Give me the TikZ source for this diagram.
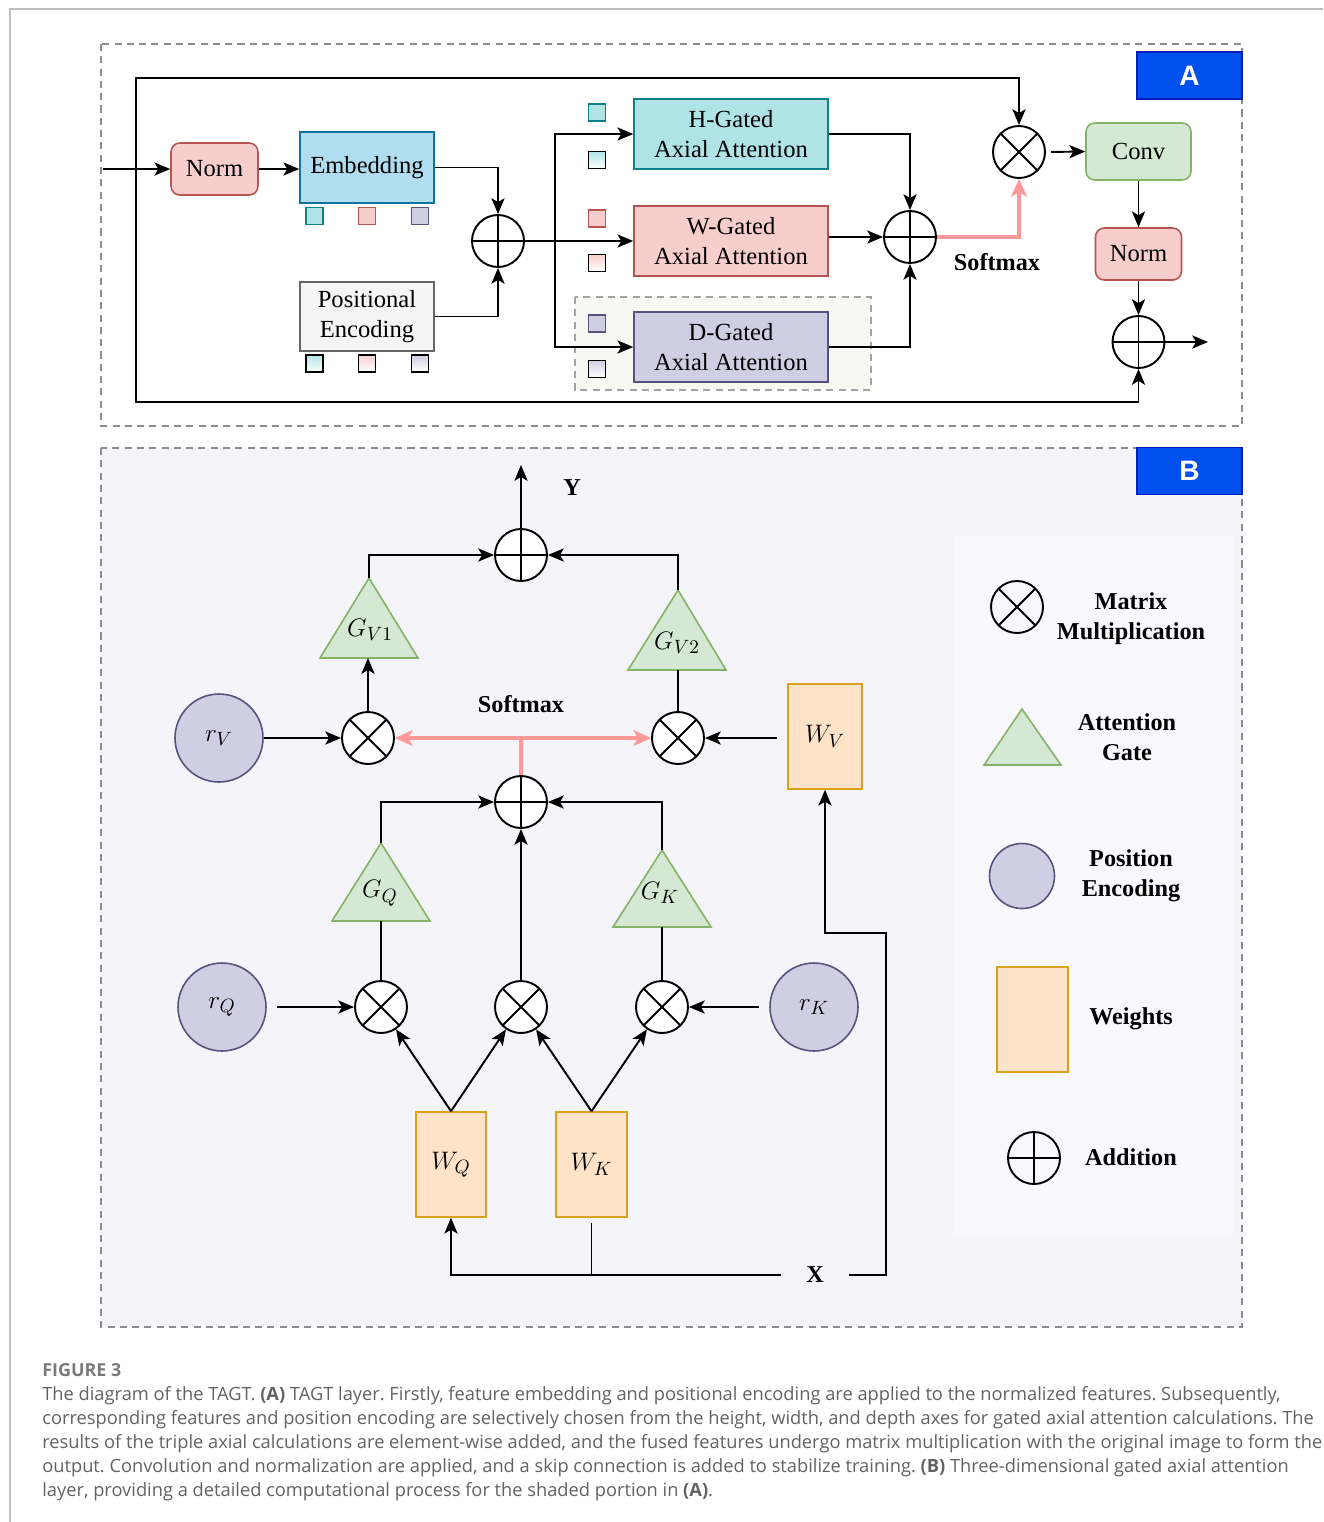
\documentclass[tikz,border=0pt]{standalone}
\usepackage{fontspec}
\setmainfont{Liberation Serif}
\newfontfamily\capfont{Open Sans}
\newfontfamily\tagfont{Liberation Sans}
\usetikzlibrary{arrows.meta,calc}
\frenchspacing

\definecolor{redF}{HTML}{F8CECC}\definecolor{redD}{HTML}{B85450}
\definecolor{blueF}{HTML}{B1DDF0}\definecolor{blueD}{HTML}{10739E}
\definecolor{tealF}{HTML}{B0E3E6}\definecolor{tealD}{HTML}{0E8088}
\definecolor{purpF}{HTML}{D0CEE2}\definecolor{purpD}{HTML}{56517E}
\definecolor{greenF}{HTML}{D5E8D4}\definecolor{greenD}{HTML}{82B366}
\definecolor{greyF}{HTML}{F5F5F5}\definecolor{greyD}{HTML}{666666}
\definecolor{peachF}{HTML}{FFE3C8}\definecolor{peachD}{HTML}{D9A21E}
\definecolor{pinkL}{HTML}{FF9999}
\definecolor{tagF}{HTML}{0050EF}\definecolor{tagD}{HTML}{001DBC}
\definecolor{panelB}{HTML}{F4F4F9}\definecolor{legendF}{HTML}{F9F9FD}
\definecolor{shadeD}{HTML}{F7F8F2}
\definecolor{dashG}{HTML}{8C8C8C}
\definecolor{capG}{HTML}{626262}
\definecolor{frameG}{HTML}{BDBDBD}

\tikzset{
  con/.style={line width=1.1pt},
  arr/.style={line width=1.1pt,-{Stealth[length=9pt,width=7.5pt,inset=2.2pt]}},
  pinkline/.style={draw=pinkL,line width=1.9pt},
  pinkarr/.style={pinkline,-{Stealth[length=10pt,width=9pt,inset=2.5pt]}},
  txt/.style={font=\fontsize{14}{17}\selectfont,align=center},
  boldtxt/.style={font=\fontsize{13.8}{17}\selectfont\bfseries,align=center},
  mathtxt/.style={font=\fontsize{15}{18}\selectfont},
  box/.style={draw,line width=0.9pt,inner sep=0pt,txt},
  rbox/.style={box,rounded corners=5pt},
  panel/.style={draw=dashG,line width=0.8pt,dash pattern=on 4pt off 3pt},
  tagbox/.style={fill=tagF,draw=tagD,line width=0.8pt,minimum width=2.1cm,minimum height=0.94cm,
    text=white,font=\tagfont\fontsize{16}{18}\selectfont\bfseries},
  sq/.style={draw,line width=0.8pt,minimum size=0.34cm,inner sep=0pt},
  gsq/.style={sq,draw=black,top color=#1,bottom color=white},
  addc/.style={circle,draw,line width=1.1pt,minimum size=1.04cm,inner sep=0pt,
    path picture={\draw[line width=1.1pt]
      (path picture bounding box.north) -- (path picture bounding box.south)
      (path picture bounding box.west) -- (path picture bounding box.east);}},
  mulc/.style={circle,draw,line width=1.1pt,minimum size=1.04cm,inner sep=0pt,
    path picture={\draw[line width=1.1pt]
      (path picture bounding box.north west) -- (path picture bounding box.south east)
      (path picture bounding box.south west) -- (path picture bounding box.north east);}},
  posc/.style={circle,fill=purpF,draw=purpD,line width=0.9pt,minimum size=1.76cm,inner sep=0pt,mathtxt},
  wbox/.style={fill=peachF,draw=peachD,line width=0.9pt,inner sep=0pt,mathtxt},
  gate/.style={fill=greenF,draw=greenD,line width=0.9pt},
  captxt/.style={anchor=base west,inner sep=0pt,text=capG,font=\capfont\fontsize{10.4}{12}\selectfont},
}

\begin{document}
\begin{tikzpicture}[x=0.02cm,y=-0.02cm]
\useasboundingbox (0,0) rectangle (1323,1522);

% page frame
\draw[frameG,line width=0.8pt] (10,1522) -- (10,9) -- (1323,9);

% ---------------- panel A ----------------
\draw[panel] (101,44) rectangle (1242,426);
\node[tagbox] (tagA) at (1189.5,75.5) {A};
\fill[shadeD] (575,297) rectangle (871,390);
\draw[panel,draw=dashG!80] (575,297) rectangle (871,390);

\node[rbox,fill=redF,draw=redD,minimum width=1.74cm,minimum height=1.04cm] (normA) at (214.5,169) {Norm};
\node[box,fill=blueF,draw=blueD,minimum width=2.68cm,minimum height=1.42cm] (emb) at (367,167.5) {Embedding};
\node[box,fill=greyF,draw=greyD,minimum width=2.68cm,minimum height=1.38cm] (pos) at (367,316.5) {Positional\\Encoding};

\node[sq,fill=tealF,draw=tealD] (e1) at (314.5,216) {};
\node[sq,fill=redF,draw=redD] (e2) at (367,216) {};
\node[sq,fill=purpF,draw=purpD] (e3) at (420,216) {};
\node[gsq=tealF] (p1) at (314.5,363.5) {};
\node[gsq=redF] (p2) at (367,363.5) {};
\node[gsq=purpF] (p3) at (420,363.5) {};

\node[addc] (add1) at (498,241) {};

\node[box,fill=tealF,draw=tealD,minimum width=3.88cm,minimum height=1.4cm] (hbox) at (731,134) {H-Gated\\Axial Attention};
\node[box,fill=redF,draw=redD,minimum width=3.88cm,minimum height=1.4cm] (wbx) at (731,241) {W-Gated\\Axial Attention};
\node[box,fill=purpF,draw=purpD,minimum width=3.88cm,minimum height=1.4cm] (dbox) at (731,347) {D-Gated\\Axial Attention};

\node[sq,fill=tealF,draw=tealD] (h1) at (597,112.5) {};
\node[gsq=tealF] (h2) at (597,160) {};
\node[sq,fill=redF,draw=redD] (w1) at (597,218.5) {};
\node[gsq=redF] (w2) at (597,263) {};
\node[sq,fill=purpF,draw=purpD] (d1) at (597,323.5) {};
\node[gsq=purpF] (d2) at (597,369) {};

\node[addc] (add2) at (910,237) {};
\node[mulc] (mul1) at (1019,152) {};
\node[rbox,fill=greenF,draw=greenD,minimum width=2.1cm,minimum height=1.14cm] (conv) at (1138.5,151.5) {Conv};
\node[rbox,fill=redF,draw=redD,minimum width=1.72cm,minimum height=1.04cm] (normB) at (1138.5,254) {Norm};
\node[addc] (add3) at (1138.5,342) {};
\node[boldtxt] (smA) at (997,262) {Softmax};

\coordinate (inA) at (103,169);
\coordinate (j1) at (136,169);
\coordinate (loopT) at (136,78);
\coordinate (loopB) at (136,402);
\coordinate (split) at (555,241);
\coordinate (outA) at (1208,342);

\draw[arr] (inA) -- (normA.west);
\draw[arr] (normA.east) -- (normA.east -| emb.west);
\draw[arr] (emb.east) -| (add1.north);
\draw[arr] (pos.east) -| (add1.south);
\draw[arr] (add1.east) -- (wbx.west);
\draw[arr] (split) |- (hbox.west);
\draw[arr] (split) |- (dbox.west);
\draw[arr] (hbox.east) -| (add2.north);
\draw[arr] (wbx.east |- add2.west) -- (add2.west);
\draw[arr] (dbox.east) -| (add2.south);
\draw[pinkarr] (add2.east) -| (mul1.south);
\draw[arr] (j1) -- (loopT) -| (mul1.north);
\draw[arr] (j1) -- (loopB) -| (add3.south);
\draw[arr,shorten <=3pt] (mul1.east) -- (conv.west);
\draw[arr] (conv.south) -- (normB.north);
\draw[arr] (normB.south) -- (add3.north);
\draw[arr] (add3.east) -- (outA);

% ---------------- panel B ----------------
\fill[panelB] (101,448) rectangle (1242,1327);
\draw[panel] (101,448) rectangle (1242,1327);
\fill[legendF] (953,536) rectangle (1233,1237);
\node[tagbox] (tagB) at (1189.5,471) {B};

\node[addc,fill=white] (addT) at (521,555) {};
\node[addc,fill=white] (addM) at (521,802) {};
\coordinate (yout) at (521,465);
\node[boldtxt] (ylab) at (572,488) {Y};

% attention gates
\draw[gate] (369,578) -- (320,658) -- (418,658) -- cycle;
\coordinate (gv1top) at (369,578); \coordinate (gv1bot) at (368,658);
\node[mathtxt] (gv1) at (370,630) {$G_{V1}$};
\draw[gate] (678,590) -- (628,670) -- (726,670) -- cycle;
\coordinate (gv2top) at (678,590); \coordinate (gv2bot) at (678,670);
\node[mathtxt] (gv2) at (677,643) {$G_{V2}$};
\draw[gate] (381,843) -- (332,921) -- (430,921) -- cycle;
\coordinate (gqtop) at (381,843); \coordinate (gqbot) at (381,921);
\node[mathtxt] (gq) at (380,893) {$G_Q$};
\draw[gate] (662,850) -- (613,927) -- (711,927) -- cycle;
\coordinate (gktop) at (662,850); \coordinate (gkbot) at (662,927);
\node[mathtxt] (gk) at (660,893) {$G_K$};

\node[mulc,fill=white] (mv1) at (368,738) {};
\node[mulc,fill=white] (mv2) at (678,738) {};
\node[posc] (rv) at (219,738) {$r_V$};
\node[wbox,minimum width=1.48cm,minimum height=2.1cm] (wv) at (825,736.5) {$W_V$};
\node[boldtxt] (smB) at (521,704) {Softmax};

\node[mulc,fill=white] (mq) at (381,1007) {};
\node[mulc,fill=white] (mm) at (521,1007) {};
\node[mulc,fill=white] (mk) at (662,1007) {};
\node[posc] (rq) at (222,1007) {$r_Q$};
\node[posc] (rk) at (814,1007) {$r_K$};
\node[wbox,minimum width=1.4cm,minimum height=2.1cm] (wq) at (451,1164.5) {$W_Q$};
\node[wbox,minimum width=1.42cm,minimum height=2.1cm] (wk) at (591.5,1164.5) {$W_K$};
\node[boldtxt,inner xsep=0.5cm] (xlab) at (815,1275) {X};

\draw[arr] (addT.north) -- (yout);
\draw[arr] (gv1top) |- (addT.west);
\draw[arr] (gv2top) |- (addT.east);
\draw[arr] (mv1.north) -- (mv1.north |- gv1bot);
\draw[con] (mv2.north) -- (gv2bot);
\draw[arr] (rv.east) -- (mv1.west);
\draw[arr,shorten <=6pt] (mv2.east -| wv.west) -- (mv2.east);
\draw[pinkline] (addM.north) -- (addM.north |- mv1);
\draw[pinkarr,{Stealth[length=10pt,width=9pt,inset=2.5pt]}-{Stealth[length=10pt,width=9pt,inset=2.5pt]}] (mv1.east) -- (mv2.west);

\draw[arr] (gqtop) |- (addM.west);
\draw[arr] (gktop) |- (addM.east);
\draw[con] (gqbot) -- (mq.north);
\draw[con] (gkbot) -- (mk.north);
\draw[arr] (mm.north) -- (addM.south);
\draw[arr,shorten <=6pt] (rq.east) -- (mq.west);
\draw[arr,shorten <=6pt] (rk.west) -- (mk.east);
\draw[arr] (wq.north) -- (mq);
\draw[arr] (wq.north) -- (mm);
\draw[arr] (wk.north) -- (mm);
\draw[arr] (wk.north) -- (mk);
\draw[arr] (xlab.west) -| (wq.south);
\draw[con,shorten <=3pt] (wk.south) -- (wk.south |- xlab);
\draw[arr] (xlab.east) -| (886,933) -| (wv.south);

% legend
\node[mulc] (lmul) at (1017,607) {};
\node[boldtxt] (lmult) at (1131,619) {Matrix\\Multiplication};
\draw[gate] (1022,709) -- (984,765) -- (1061,765) -- cycle;
\node[boldtxt] (lgatet) at (1127,737) {Attention\\Gate};
\node[posc,minimum size=1.3cm] (lpos) at (1022,876) {};
\node[boldtxt] (lpost) at (1131,876) {Position\\Encoding};
\node[wbox,minimum width=1.42cm,minimum height=2.1cm] (lw) at (1032.5,1019.5) {};
\node[boldtxt] (lwt) at (1131,1019) {Weights};
\node[addc] (ladd) at (1034,1158) {};
\node[boldtxt] (laddt) at (1131,1157) {Addition};

% ---------------- caption ----------------
\node[captxt,font=\capfont\fontsize{10.2}{12}\selectfont\bfseries,text=capG!85] (fig) at (42,1376) {FIGURE 3};
\node[captxt] (c1) at (42,1400) {The diagram of the TAGT. \textbf{(A)} TAGT layer. Firstly, feature embedding and positional encoding are applied to the normalized features. Subsequently,};
\node[captxt] (c2) at (42,1424) {corresponding features and position encoding are selectively chosen from the height, width, and depth axes for gated axial attention calculations. The};
\node[captxt] (c3) at (42,1448) {results of the triple axial calculations are element-wise added, and the fused features undergo matrix multiplication with the original image to form the};
\node[captxt] (c4) at (42,1472) {output. Convolution and normalization are applied, and a skip connection is added to stabilize training. \textbf{(B)} Three-dimensional gated axial attention};
\node[captxt] (c5) at (42,1496) {layer, providing a detailed computational process for the shaded portion in \textbf{(A)}.};
\end{tikzpicture}
\end{document}
